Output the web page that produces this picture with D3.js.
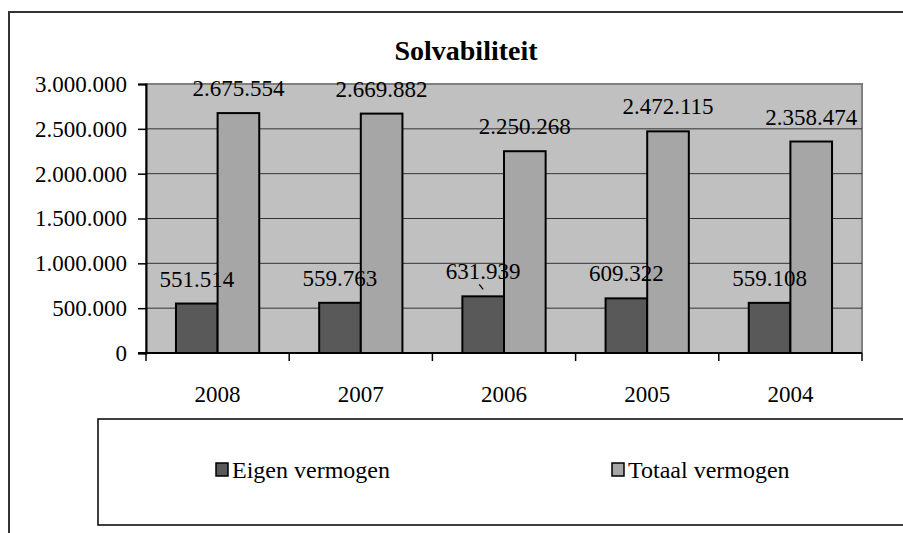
<!DOCTYPE html>
<html>
<head>
<meta charset="utf-8">
<script src="https://cdn.jsdelivr.net/npm/d3@7"></script>
<style>
  body { margin: 0; background: #fff; }
  text { font-family: "Liberation Serif", "Times New Roman", serif; }
</style>
</head>
<body>
<div id="chart-area"></div>
<script>
// Solvabiliteit chart

var years = ["2008", "2007", "2006", "2005", "2004"];
var seriesNames = ["Eigen vermogen", "Totaal vermogen"];
var eigenVermogen = [551514, 559763, 631939, 609322, 559108];
var totaalVermogen = [2675554, 2669882, 2250268, 2472115, 2358474];
var yTicks = [0, 500000, 1000000, 1500000, 2000000, 2500000, 3000000];
var colors = ["#595959", "#a6a6a6"];

var data = years.map(function(y, i) {
  return { year: y, values: [eigenVermogen[i], totaalVermogen[i]] };
});

// dutch number format: 2.675.554
var fmt = function(v) { return d3.format(",")(v).replace(/,/g, "."); };

var W = 903, H = 533;
var plot = { left: 146, right: 862, top: 84, bottom: 353 };

var svg = d3.select("#chart-area")
  .append("svg")
  .attr("width", W)
  .attr("height", H);

// outer chart frame (runs off the picture right and bottom)
svg.append("rect")
  .attr("x", 9).attr("y", 12)
  .attr("width", 1000).attr("height", 700)
  .attr("fill", "#fff")
  .attr("stroke", "#333")
  .attr("stroke-width", 2);

svg.append("text")
  .attr("x", 466).attr("y", 60)
  .attr("text-anchor", "middle")
  .attr("font-weight", "bold")
  .attr("font-size", 28)
  .text("Solvabiliteit");

var x = d3.scaleBand()
  .domain(years)
  .range([plot.left, plot.right])
  .padding(0);

var xInner = d3.scaleBand()
  .domain(seriesNames)
  .range([0, x.bandwidth()])
  .paddingInner(0)
  .paddingOuter(0.72);

var y = d3.scaleLinear()
  .domain([0, 3000000])
  .range([plot.bottom, plot.top]);

// plot background
svg.append("rect")
  .attr("x", plot.left).attr("y", plot.top)
  .attr("width", plot.right - plot.left)
  .attr("height", plot.bottom - plot.top)
  .attr("fill", "#c0c0c0")
  .attr("stroke", "#808080")
  .attr("stroke-width", 2);

// gridlines
svg.append("g")
  .selectAll("line")
  .data(yTicks.slice(1, -1))
  .enter().append("line")
  .attr("x1", plot.left).attr("x2", plot.right)
  .attr("y1", function(d) { return y(d); })
  .attr("y2", function(d) { return y(d); })
  .attr("stroke", "#333")
  .attr("stroke-width", 1);

// bars
var groups = svg.append("g")
  .selectAll("g")
  .data(data)
  .enter().append("g")
  .attr("transform", function(d) { return "translate(" + x(d.year) + ",0)"; });

groups.selectAll("rect")
  .data(function(d) { return d.values.map(function(v, i) { return { key: seriesNames[i], v: v, i: i }; }); })
  .enter().append("rect")
  .attr("x", function(d) { return xInner(d.key); })
  .attr("y", function(d) { return y(d.v); })
  .attr("width", xInner.bandwidth())
  .attr("height", function(d) { return y(0) - y(d.v); })
  .attr("fill", function(d) { return colors[d.i]; })
  .attr("stroke", "#000")
  .attr("stroke-width", 2);

groups.selectAll("text")
  .data(function(d) { return d.values.map(function(v, i) { return { key: seriesNames[i], v: v }; }); })
  .enter().append("text")
  .attr("x", function(d) { return xInner(d.key) + xInner.bandwidth() / 2; })
  .attr("y", function(d) { return y(d.v) - 17; })
  .attr("text-anchor", "middle")
  .attr("font-size", 23)
  .attr("fill", "#000")
  .text(function(d) { return fmt(d.v); });

// stray little tick seen in the original just above the 2006 bar
var sx = x("2006") + xInner("Eigen vermogen") + xInner.bandwidth() / 2 - 2;
var sy = y(631939) - 9;
svg.append("path")
  .attr("d", "M" + (sx - 2) + "," + (sy - 3) + "L" + (sx + 2) + "," + (sy + 2))
  .attr("stroke", "#000")
  .attr("stroke-width", 1.3);

// y axis
var yAxis = svg.append("g")
  .attr("transform", "translate(" + plot.left + ",0)")
  .call(d3.axisLeft(y).tickValues(yTicks).tickSize(8).tickPadding(11).tickFormat(fmt));
yAxis.select(".domain").attr("stroke", "#000").attr("stroke-width", 2);
yAxis.selectAll(".tick line").attr("stroke", "#000").attr("stroke-width", 1.5);
yAxis.selectAll(".tick text")
  .attr("font-family", "Liberation Serif, Times New Roman, serif")
  .attr("font-size", 23)
  .attr("fill", "#000");

// x axis: baseline, ticks between categories
var xAxis = svg.append("g");
xAxis.append("line")
  .attr("x1", plot.left - 8).attr("x2", plot.right)
  .attr("y1", plot.bottom).attr("y2", plot.bottom)
  .attr("stroke", "#000").attr("stroke-width", 2);
xAxis.selectAll(".sep")
  .data(years.concat(["end"]))
  .enter().append("line")
  .attr("x1", function(d, i) { return plot.left + i * x.bandwidth(); })
  .attr("x2", function(d, i) { return plot.left + i * x.bandwidth(); })
  .attr("y1", plot.bottom)
  .attr("y2", plot.bottom + 8)
  .attr("stroke", "#000").attr("stroke-width", 1.5);
xAxis.selectAll(".lbl")
  .data(years)
  .enter().append("text")
  .attr("x", function(d) { return x(d) + x.bandwidth() / 2; })
  .attr("y", 402)
  .attr("text-anchor", "middle")
  .attr("font-size", 23)
  .text(function(d) { return d; });

// legend
svg.append("rect")
  .attr("x", 98).attr("y", 419)
  .attr("width", 900).attr("height", 106)
  .attr("fill", "#fff")
  .attr("stroke", "#000")
  .attr("stroke-width", 1.5);

var legendX = [216, 612];
var legend = svg.append("g")
  .selectAll("g")
  .data(seriesNames)
  .enter().append("g")
  .attr("transform", function(d, i) { return "translate(" + legendX[i] + ",463)"; });

legend.append("rect")
  .attr("width", 12).attr("height", 13)
  .attr("fill", function(d, i) { return colors[i]; })
  .attr("stroke", "#000")
  .attr("stroke-width", 1.5);

legend.append("text")
  .attr("x", 16).attr("y", 15)
  .attr("font-size", 24)
  .text(function(d) { return d; });
</script>
</body>
</html>
